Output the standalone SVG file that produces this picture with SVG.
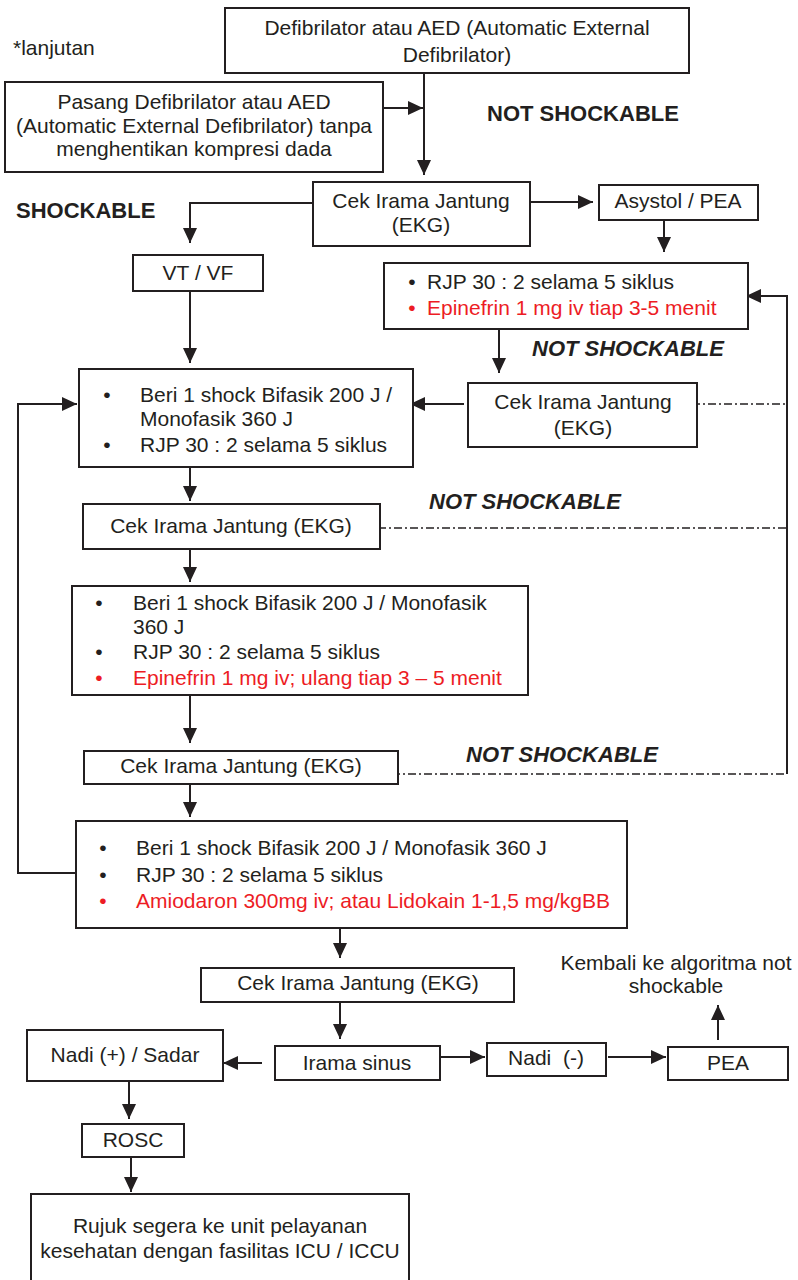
<svg xmlns="http://www.w3.org/2000/svg" width="798" height="1280" viewBox="0 0 798 1280">
  <style>
    text { font-family: "Liberation Sans", Arial, sans-serif; font-size: 21px; fill: #231f20; }
    .c { text-anchor: middle; }
    .red { fill: #ed1c24; }
    .lbl { font-weight: bold; font-size: 22px; }
    .it { font-style: italic; }
    .box { fill: #ffffff; stroke: #231f20; stroke-width: 2; }
    .ln { fill: none; stroke: #231f20; stroke-width: 2; }
    .arr { fill: none; stroke: #231f20; stroke-width: 2; marker-end: url(#ah); }
    .dd { fill: none; stroke: #231f20; stroke-width: 1.6; stroke-dasharray: 8 3 2 3; }
  </style>
  <defs>
    <marker id="ah" markerUnits="userSpaceOnUse" markerWidth="16" markerHeight="14" refX="15" refY="7" orient="auto">
      <path d="M0,0 L15,7 L0,14 Z" fill="#231f20"/>
    </marker>
  </defs>
  <rect width="798" height="1280" fill="#ffffff"/>

  <!-- connectors -->
  <g id="connectors">
    <path class="arr" d="M424,68 V175"/>
    <path class="arr" d="M378,108 H423"/>
    <path class="arr" d="M523,202 H593"/>
    <path class="arr" d="M664,219 V252"/>
    <path class="arr" d="M313,203 H190 V243"/>
    <path class="arr" d="M190,292 V363"/>
    <path class="arr" d="M499,328 V373"/>
    <path class="arr" d="M464,404 H410"/>
    <path class="arr" d="M787,774 V296 H746"/>
    <path class="arr" d="M76,873 H18 V404 H77"/>
    <path class="arr" d="M190,467 V501"/>
    <path class="arr" d="M190,549 V582"/>
    <path class="arr" d="M190,695 V743"/>
    <path class="arr" d="M190,784 V817"/>
    <path class="arr" d="M340,928 V958"/>
    <path class="arr" d="M340,1002 V1039"/>
    <path class="arr" d="M262,1063 H223"/>
    <path class="arr" d="M438,1057 H485"/>
    <path class="arr" d="M608,1057 H666"/>
    <path class="arr" d="M718,1040 V1005"/>
    <path class="arr" d="M129,1081 V1119"/>
    <path class="arr" d="M131,1148 V1192"/>
    <path class="dd" d="M692,404 H787"/>
    <path class="dd" d="M378,528 H787"/>
    <path class="dd" d="M392,774 H787"/>
  </g>

  <!-- free labels -->
  <g id="labels">
    <text x="13" y="55">*lanjutan</text>
    <text class="lbl" x="487" y="121">NOT SHOCKABLE</text>
    <text class="lbl" x="16" y="218">SHOCKABLE</text>
    <text class="lbl it" x="532" y="356">NOT SHOCKABLE</text>
    <text class="lbl it" x="429" y="509">NOT SHOCKABLE</text>
    <text class="lbl it" x="466" y="762">NOT SHOCKABLE</text>
    <text class="c" x="676" y="970">Kembali ke algoritma not</text>
    <text class="c" x="676" y="993">shockable</text>
  </g>

  <g id="aed">
    <rect class="box" x="225" y="8" width="464" height="65"/>
    <text class="c" x="457" y="35">Defibrilator atau AED (Automatic External</text>
    <text class="c" x="457" y="62">Defibrilator)</text>
  </g>

  <g id="pasang">
    <rect class="box" x="5" y="82" width="378" height="90"/>
    <text class="c" x="194" y="109">Pasang Defibrilator atau AED</text>
    <text class="c" x="194" y="133">(Automatic External Defibrilator) tanpa</text>
    <text class="c" x="194" y="156">menghentikan kompresi dada</text>
  </g>

  <g id="cek1">
    <rect class="box" x="313" y="182" width="217" height="64"/>
    <text class="c" x="421" y="208">Cek Irama Jantung</text>
    <text class="c" x="421" y="232">(EKG)</text>
  </g>

  <g id="asystol">
    <rect class="box" x="599" y="185" width="159" height="35"/>
    <text class="c" x="678" y="208">Asystol / PEA</text>
  </g>

  <g id="vtvf">
    <rect class="box" x="133" y="255" width="130" height="36"/>
    <text class="c" x="198" y="280">VT / VF</text>
  </g>

  <g id="rjp-ns">
    <rect class="box" x="384" y="263" width="364" height="66"/>
    <text class="c" x="412" y="289" font-size="17">•</text>
    <text x="427" y="289">RJP 30 : 2 selama 5 siklus</text>
    <text class="c red" x="412" y="315" font-size="17">•</text>
    <text class="red" x="427" y="315">Epinefrin 1 mg iv tiap 3-5 menit</text>
  </g>

  <g id="cek2">
    <rect class="box" x="468" y="383" width="229" height="64"/>
    <text class="c" x="583" y="409">Cek Irama Jantung</text>
    <text class="c" x="583" y="435">(EKG)</text>
  </g>

  <g id="shock1">
    <rect class="box" x="79" y="369" width="334" height="98"/>
    <text class="c" x="107" y="402">•</text>
    <text x="140" y="402">Beri 1 shock Bifasik 200 J /</text>
    <text x="140" y="426">Monofasik 360 J</text>
    <text class="c" x="107" y="452">•</text>
    <text x="140" y="452">RJP 30 : 2 selama 5 siklus</text>
  </g>

  <g id="cek3">
    <rect class="box" x="83" y="504" width="297" height="45"/>
    <text class="c" x="231" y="533">Cek Irama Jantung (EKG)</text>
  </g>

  <g id="shock2">
    <rect class="box" x="72" y="586" width="456" height="109"/>
    <text class="c" x="99" y="610">•</text>
    <text x="133" y="610">Beri 1 shock Bifasik 200 J / Monofasik</text>
    <text x="133" y="634">360 J</text>
    <text class="c" x="99" y="659">•</text>
    <text x="133" y="659">RJP 30 : 2 selama 5 siklus</text>
    <text class="c red" x="99" y="685">•</text>
    <text class="red" x="133" y="685">Epinefrin 1 mg iv; ulang tiap 3 – 5 menit</text>
  </g>

  <g id="cek4">
    <rect class="box" x="84" y="751" width="314" height="33"/>
    <text class="c" x="241" y="773">Cek Irama Jantung (EKG)</text>
  </g>

  <g id="shock3">
    <rect class="box" x="76" y="821" width="551" height="107"/>
    <text class="c" x="103" y="855">•</text>
    <text x="136" y="855">Beri 1 shock Bifasik 200 J / Monofasik 360 J</text>
    <text class="c" x="103" y="882">•</text>
    <text x="136" y="882">RJP 30 : 2 selama 5 siklus</text>
    <text class="c red" x="103" y="908">•</text>
    <text class="red" x="136" y="908">Amiodaron 300mg iv; atau Lidokain 1-1,5 mg/kgBB</text>
  </g>

  <g id="cek5">
    <rect class="box" x="201" y="968" width="313" height="34"/>
    <text class="c" x="358" y="990">Cek Irama Jantung (EKG)</text>
  </g>

  <g id="nadi-plus">
    <rect class="box" x="27" y="1030" width="196" height="51"/>
    <text class="c" x="125" y="1062">Nadi (+) / Sadar</text>
  </g>

  <g id="irama-sinus">
    <rect class="box" x="275" y="1046" width="165" height="34"/>
    <text class="c" x="357" y="1070">Irama sinus</text>
  </g>

  <g id="nadi-minus">
    <rect class="box" x="487" y="1043" width="119" height="33"/>
    <text class="c" x="546" y="1065" xml:space="preserve">Nadi  (-)</text>
  </g>

  <g id="pea">
    <rect class="box" x="668" y="1047" width="120" height="33"/>
    <text class="c" x="728" y="1070">PEA</text>
  </g>

  <g id="rosc">
    <rect class="box" x="82" y="1124" width="102" height="33"/>
    <text class="c" x="133" y="1147">ROSC</text>
  </g>

  <g id="rujuk">
    <rect class="box" x="31" y="1194" width="378" height="110"/>
    <text class="c" x="220" y="1233">Rujuk segera ke unit pelayanan</text>
    <text class="c" x="220" y="1258">kesehatan dengan fasilitas ICU / ICCU</text>
  </g>
</svg>
